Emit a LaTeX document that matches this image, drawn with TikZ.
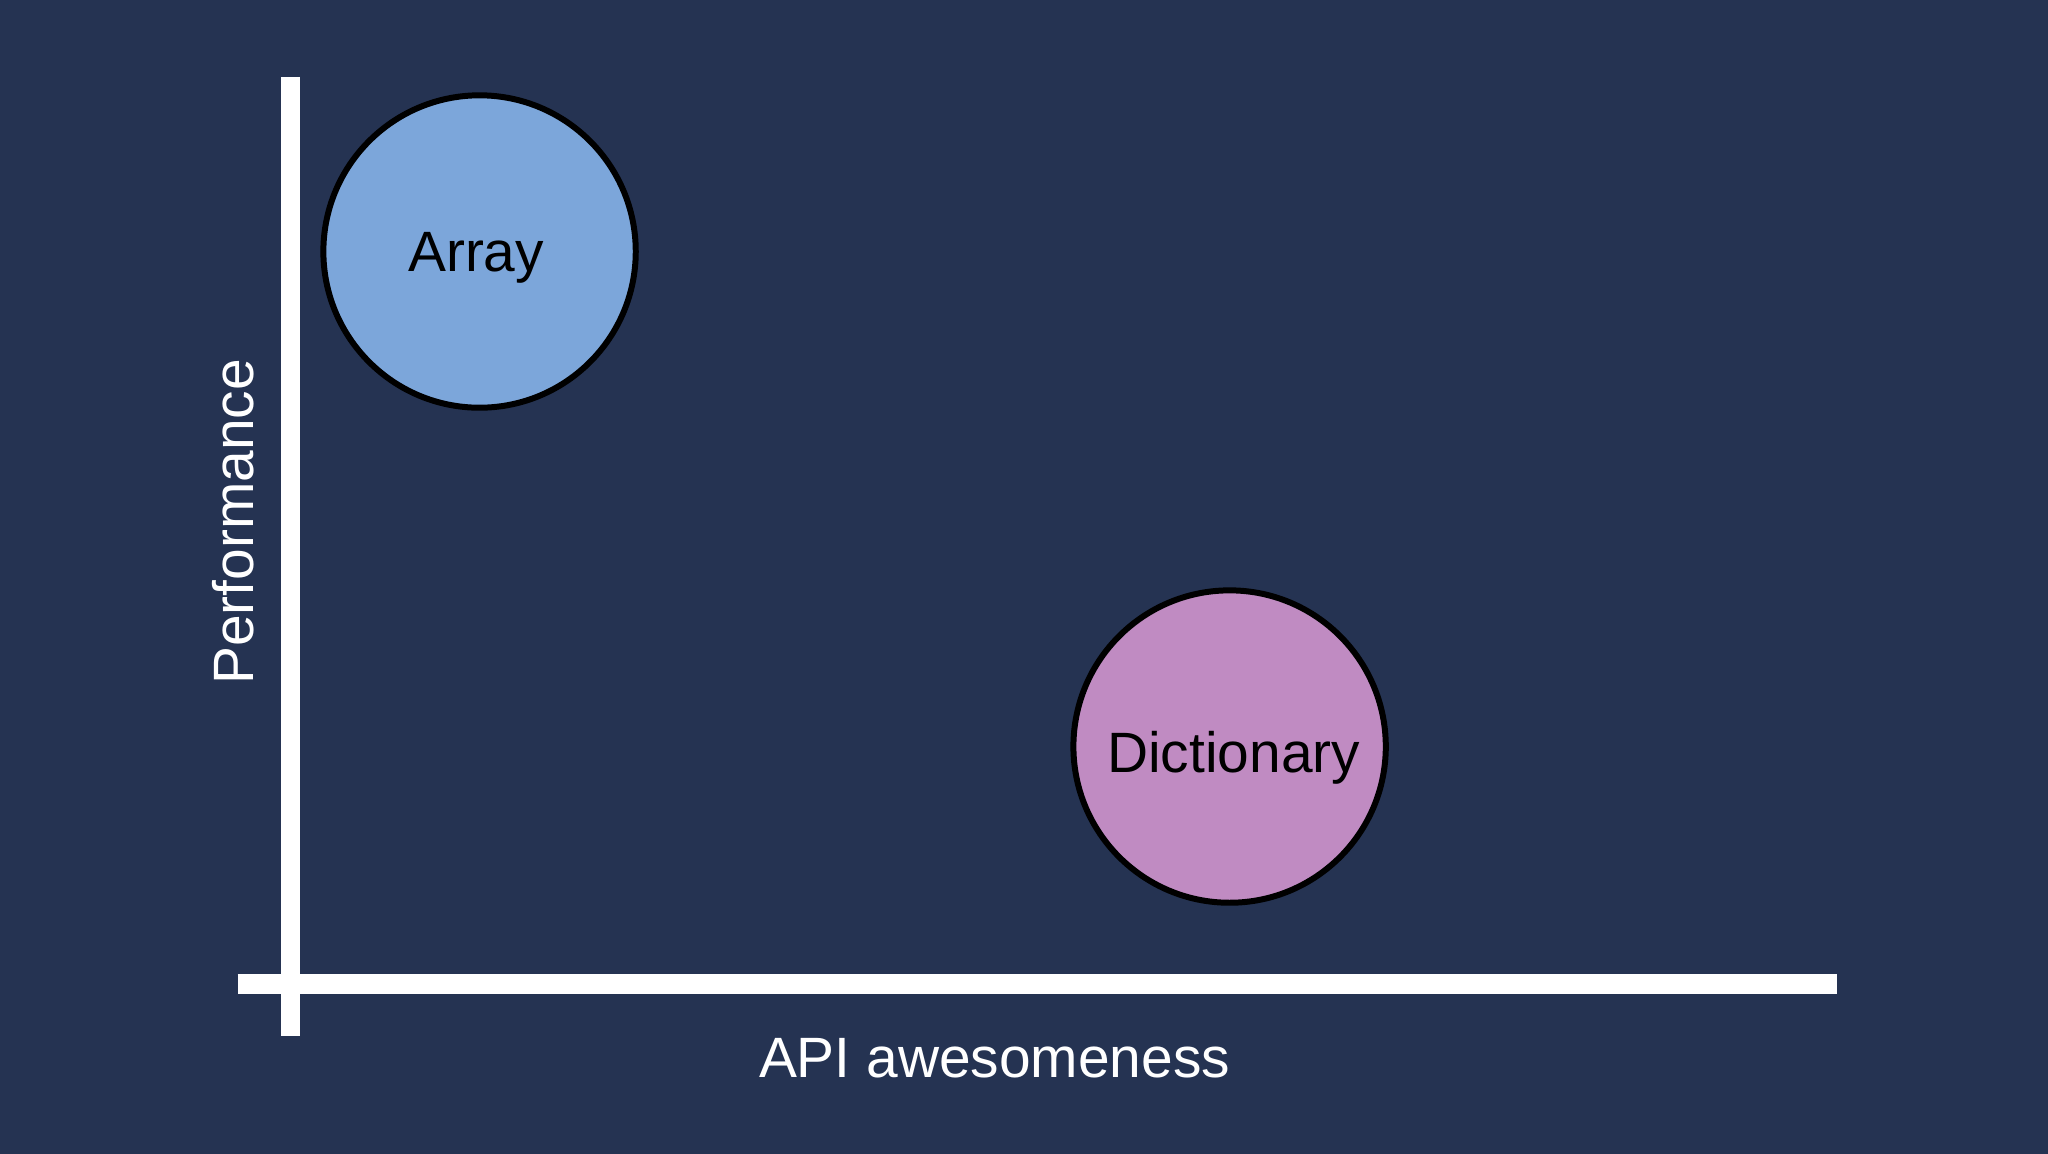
\documentclass[tikz,border=0pt]{standalone}
\usepackage{fontspec}
\setmainfont{Liberation Sans}
\definecolor{bg}{RGB}{37,51,82}
\definecolor{arrfill}{RGB}{124,166,218}
\definecolor{dictfill}{RGB}{192,139,194}
\begin{document}
\begin{tikzpicture}[x=1pt,y=-1pt,
  axis/.style={draw=white,line width=19pt},
  bubble/.style={circle,draw=black,line width=6pt,minimum size=313pt,inner sep=0pt},
  lbl/.style={font=\fontsize{57}{68}\selectfont,inner sep=0pt,anchor=base}]
\fill[bg] (-2,-2) rectangle (2050,1154);
\useasboundingbox (0,0) rectangle (2048,1152);
\coordinate (ytop) at (289.5,75);
\coordinate (ybot) at (289.5,1036);
\coordinate (xleft) at (236,984);
\coordinate (xright) at (1839,984);
\draw[axis] (ytop) -- (ybot);
\draw[axis,line width=20pt] (xleft) -- (xright);
\node[bubble,fill=arrfill] (array) at (478.5,250) {};
\node[lbl,text=black] (arraylbl) at (475,270) {Array};
\node[bubble,fill=dictfill] (dict) at (1230,746) {};
\node[lbl,text=black] (dictlbl) at (1234,772) {Dictionary};
\node[lbl,text=white] (xlbl) at (994.5,1078) {API awesomeness};
\node[lbl,text=white,rotate=90] (ylbl) at (252,521) {Performance};
\end{tikzpicture}
\end{document}
